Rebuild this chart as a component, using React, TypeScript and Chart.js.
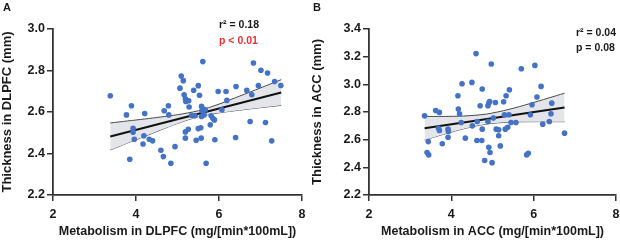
import React, { useEffect, useRef } from "react";
import { Chart, registerables } from "chart.js";

Chart.register(...registerables);

// ---------- Panel A: DLPFC ----------
const dlpfcX = [3.38, 3.77, 3.89, 3.85, 3.93, 3.93, 3.96, 4.21, 4.19, 4.17, 4.32, 4.40, 4.60, 4.66, 4.68, 4.78, 4.79, 4.84, 4.94, 5.06, 5.09, 5.14, 5.16, 5.19, 5.20, 5.27, 5.28, 5.19, 5.19, 5.26, 5.34, 5.39, 5.42, 5.45, 5.50, 5.50, 5.53, 5.56, 5.57, 5.61, 5.58, 5.59, 5.62, 5.64, 5.67, 5.58, 5.69, 5.79, 5.81, 5.85, 5.89, 5.90, 5.98, 6.07, 6.17, 6.19, 6.41, 6.40, 6.67, 6.75, 6.79, 6.83, 7.01, 6.95, 7.17, 7.12, 7.27, 7.34, 7.49];
const dlpfcY = [2.678, 2.586, 2.630, 2.372, 2.522, 2.503, 2.469, 2.593, 2.485, 2.446, 2.469, 2.461, 2.416, 2.385, 2.606, 2.630, 2.586, 2.353, 2.433, 2.715, 2.773, 2.751, 2.683, 2.664, 2.651, 2.654, 2.624, 2.504, 2.474, 2.517, 2.583, 2.705, 2.582, 2.464, 2.727, 2.520, 2.681, 2.524, 2.474, 2.843, 2.627, 2.606, 2.614, 2.586, 2.611, 2.578, 2.353, 2.538, 2.582, 2.570, 2.562, 2.466, 2.699, 2.611, 2.699, 2.656, 2.723, 2.477, 2.704, 2.554, 2.683, 2.836, 2.801, 2.727, 2.788, 2.549, 2.461, 2.747, 2.728];
const dlpfcFitX = [3.38, 7.5];
const dlpfcFitY = [2.482, 2.694];
const dlpfcBandX = [3.38, 3.8, 4.2, 4.6, 5.0, 5.5, 6.0, 6.5, 7.0, 7.5];
const dlpfcBandUpper = [2.547, 2.557, 2.566, 2.576, 2.587, 2.606, 2.638, 2.677, 2.716, 2.756];
const dlpfcBandLower = [2.417, 2.451, 2.482, 2.514, 2.545, 2.577, 2.596, 2.609, 2.621, 2.632];
const dlpfcYTicks = [2.2, 2.4, 2.6, 2.8, 3.0];

// ---------- Panel B: ACC ----------
const accX = [3.35, 3.62, 3.71, 3.44, 3.41, 3.45, 3.69, 3.71, 3.78, 3.92, 3.93, 3.92, 4.16, 4.17, 4.20, 4.24, 4.26, 4.34, 4.50, 4.51, 4.60, 4.62, 4.63, 4.70, 4.75, 4.75, 4.74, 4.81, 4.89, 4.89, 4.91, 4.93, 4.91, 4.94, 4.97, 4.99, 5.02, 5.07, 5.09, 5.15, 5.15, 5.19, 5.27, 5.29, 5.31, 5.33, 5.37, 5.40, 5.41, 5.45, 5.57, 5.70, 5.83, 5.87, 5.92, 5.96, 6.03, 6.08, 6.18, 6.22, 6.38, 6.42, 6.44, 6.75];
const accY = [2.772, 2.811, 2.797, 2.586, 2.507, 2.490, 2.683, 2.666, 2.570, 2.676, 2.659, 2.618, 2.917, 2.821, 2.787, 2.724, 3.004, 2.611, 3.014, 2.700, 3.222, 2.594, 2.731, 2.845, 2.966, 2.676, 2.594, 2.449, 2.845, 2.731, 2.864, 2.876, 2.545, 2.507, 3.147, 2.434, 2.756, 2.869, 2.676, 2.671, 2.628, 2.555, 2.874, 2.780, 2.676, 2.917, 2.690, 2.780, 2.961, 2.724, 2.724, 3.113, 2.490, 2.502, 2.780, 2.852, 3.137, 2.908, 2.985, 2.712, 2.731, 2.787, 2.864, 2.647];
const accFitX = [3.35, 6.75];
const accFitY = [2.683, 2.833];
const accBandX = [3.35, 3.8, 4.3, 4.85, 5.4, 5.9, 6.35, 6.75];
const accBandUpper = [2.768, 2.768, 2.771, 2.785, 2.819, 2.860, 2.900, 2.936];
const accBandLower = [2.598, 2.638, 2.679, 2.713, 2.727, 2.730, 2.730, 2.730];
const accYTicks = [2.2, 2.4, 2.6, 2.8, 3.0, 3.2, 3.4];

const xTicks = [2, 4, 6, 8];

const FONT = "'Liberation Sans', Arial, sans-serif";
const AXIS_COLOR = "#333333";
const TEXT_COLOR = "#1a1a1a";
const DOT_COLOR = "#4472c4";

type Note = { text: string; x: number; y: number; color: string; size: number };

type PanelSpec = {
  letter: string;
  xs: number[];
  ys: number[];
  fitX: number[];
  fitY: number[];
  bandX: number[];
  bandUpper: number[];
  bandLower: number[];
  yTicks: number[];
  yTitle: string;
  xTitle: string;
  yAxisWidth: number;
  padRight: number;
  notes: Note[];
};

function pts(xs: number[], ys: number[]) {
  return xs.map((x, i) => ({ x, y: ys[i] }));
}

function Panel({ spec }: { spec: PanelSpec }) {
  const ref = useRef<HTMLCanvasElement | null>(null);
  useEffect(() => {
    if (!ref.current) return;
    const annot = {
      id: "annot",
      afterDraw(chart: any) {
        const ctx = chart.ctx;
        ctx.save();
        ctx.textBaseline = "middle";
        ctx.textAlign = "left";
        ctx.fillStyle = TEXT_COLOR;
        ctx.font = `bold 11px ${FONT}`;
        ctx.fillText(spec.letter, 3, 8);
        for (const n of spec.notes) {
          ctx.font = `bold ${n.size}px ${FONT}`;
          ctx.fillStyle = n.color;
          ctx.fillText(n.text, n.x, n.y);
        }
        ctx.restore();
      },
    };
    const yMin = spec.yTicks[0];
    const yMax = spec.yTicks[spec.yTicks.length - 1];
    const chart = new Chart(ref.current, {
      type: "scatter",
      data: {
        datasets: [
          {
            type: "scatter",
            data: pts(spec.xs, spec.ys),
            backgroundColor: DOT_COLOR,
            borderWidth: 0,
            pointRadius: 2.8,
            order: 0,
          } as any,
          {
            type: "line",
            data: pts(spec.fitX, spec.fitY),
            borderColor: "#111111",
            borderWidth: 2,
            pointRadius: 0,
            fill: false,
            order: 1,
          } as any,
          {
            type: "line",
            data: pts(spec.bandX, spec.bandUpper),
            borderColor: "#4a4a4a",
            borderWidth: 1,
            pointRadius: 0,
            fill: "+1",
            backgroundColor: "#e4e5ea",
            tension: 0.3,
            order: 2,
          } as any,
          {
            type: "line",
            data: pts(spec.bandX, spec.bandLower),
            borderColor: "#4a4a4a",
            borderWidth: 1,
            pointRadius: 0,
            fill: false,
            tension: 0.3,
            order: 3,
          } as any,
        ],
      },
      options: {
        animation: false,
        responsive: false,
        devicePixelRatio: 1,
        layout: { padding: { top: 29, right: spec.padRight, left: 0, bottom: 0 } },
        plugins: { legend: { display: false }, tooltip: { enabled: false } },
        scales: {
          x: {
            type: "linear",
            min: xTicks[0],
            max: xTicks[xTicks.length - 1],
            afterBuildTicks: (s: any) => {
              s.ticks = xTicks.map((v) => ({ value: v }));
            },
            afterFit: (s: any) => {
              s.height = 47;
              s.paddingLeft = 0;
              s.paddingRight = 0;
            },
            ticks: {
              font: { family: FONT, size: 12.5, weight: "bold" },
              color: TEXT_COLOR,
              padding: 6,
              callback: (v: any) => String(v),
            },
            grid: {
              drawOnChartArea: false,
              drawTicks: true,
              tickLength: 6,
              color: AXIS_COLOR,
              lineWidth: 1.5,
            },
            border: { display: true, color: AXIS_COLOR, width: 1.8 },
            title: {
              display: true,
              text: spec.xTitle,
              font: { family: FONT, size: 12.5, weight: "bold" },
              color: TEXT_COLOR,
              padding: { top: 0, bottom: 3 },
            },
          },
          y: {
            type: "linear",
            min: yMin,
            max: yMax,
            afterBuildTicks: (s: any) => {
              s.ticks = spec.yTicks.map((v) => ({ value: v }));
            },
            afterFit: (s: any) => {
              s.width = spec.yAxisWidth;
            },
            ticks: {
              font: { family: FONT, size: 12.5, weight: "bold" },
              color: TEXT_COLOR,
              padding: 2,
              callback: (v: any) => Number(v).toFixed(1),
            },
            grid: {
              drawOnChartArea: false,
              drawTicks: true,
              tickLength: 6,
              color: AXIS_COLOR,
              lineWidth: 1.5,
            },
            border: { display: true, color: AXIS_COLOR, width: 1.8 },
            title: {
              display: true,
              text: spec.yTitle,
              font: { family: FONT, size: 13, weight: "bold" },
              color: TEXT_COLOR,
              padding: { top: 0, bottom: 0 },
            },
          },
        },
      } as any,
      plugins: [annot],
    });
    return () => chart.destroy();
  }, [spec]);
  return <canvas ref={ref} width={310} height={242} style={{ display: "block", width: 310, height: 242 }} />;
}

const specA: PanelSpec = {
  letter: "A",
  xs: dlpfcX,
  ys: dlpfcY,
  fitX: dlpfcFitX,
  fitY: dlpfcFitY,
  bandX: dlpfcBandX,
  bandUpper: dlpfcBandUpper,
  bandLower: dlpfcBandLower,
  yTicks: dlpfcYTicks,
  yTitle: "Thickness in DLPFC (mm)",
  xTitle: "Metabolism in DLPFC (mg/[min*100mL])",
  yAxisWidth: 53,
  padRight: 8,
  notes: [
    { text: "r² = 0.18", x: 219, y: 25, color: TEXT_COLOR, size: 10.5 },
    { text: "p < 0.01", x: 219, y: 41, color: "#e8322e", size: 10.5 },
  ],
};

const specB: PanelSpec = {
  letter: "B",
  xs: accX,
  ys: accY,
  fitX: accFitX,
  fitY: accFitY,
  bandX: accBandX,
  bandUpper: accBandUpper,
  bandLower: accBandLower,
  yTicks: accYTicks,
  yTitle: "Thickness in ACC (mm)",
  xTitle: "Metabolism in ACC (mg/[min*100mL])",
  yAxisWidth: 59,
  padRight: 3,
  notes: [
    { text: "r² = 0.04", x: 266, y: 33, color: TEXT_COLOR, size: 10.5 },
    { text: "p = 0.08", x: 266, y: 48, color: TEXT_COLOR, size: 10.5 },
  ],
};

export default function App() {
  return (
    <div style={{ position: "absolute", left: 0, top: 0, width: 620, height: 242, display: "flex", background: "#ffffff" }}>
      <Panel spec={specA} />
      <Panel spec={specB} />
    </div>
  );
}
